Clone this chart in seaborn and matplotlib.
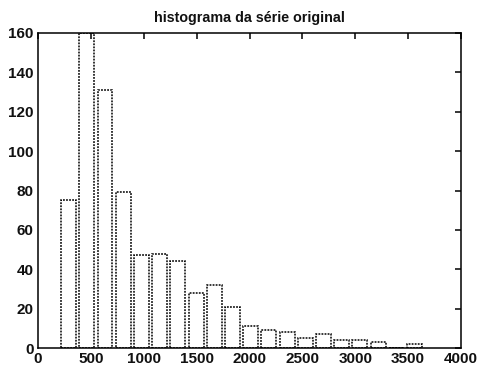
import numpy as np
import pandas as pd
import matplotlib
matplotlib.use("Agg")
import matplotlib.pyplot as plt
import seaborn as sns

# Histogram of the original series: 20 bins
bin_start = 203.0
bin_width = 172.2
counts = [75, 160, 131, 79, 47, 48, 44, 28, 32, 21, 11, 9, 8, 5, 7, 4, 4, 3, 0, 2]
x_ticks = [0, 500, 1000, 1500, 2000, 2500, 3000, 3500, 4000]
y_ticks = [0, 20, 40, 60, 80, 100, 120, 140, 160]
title = "histograma da série original"

edges = bin_start + bin_width * np.arange(len(counts) + 1)
centers = (edges[:-1] + edges[1:]) / 2
df = pd.DataFrame({"valor": centers, "freq": counts})

sns.set_theme(style="white")
plt.rcParams["font.family"] = ["Liberation Sans", "DejaVu Sans"]

fig = plt.figure(figsize=(4.79, 3.73), dpi=100)
ax = fig.add_axes([38 / 479, 1 - 348 / 373, 423 / 479, 315 / 373])

sns.histplot(data=df, x="valor", weights="freq", bins=list(edges), shrink=0.82,
             fill=False, element="bars", color="black",
             linewidth=1.1, linestyle=(0, (1.2, 0.8)), ax=ax)

ax.set_xlim(0, 4000)
ax.set_ylim(0, 160)
ax.set_xticks(x_ticks)
ax.set_yticks(y_ticks)
ax.set_xlabel("")
ax.set_ylabel("")
ax.set_title(title, fontsize=10.3, fontweight="bold", pad=8, color="#111111")

for side in ["top", "bottom", "left", "right"]:
    ax.spines[side].set_visible(True)
    ax.spines[side].set_color("black")
    ax.spines[side].set_linewidth(1.1)

ax.tick_params(axis="both", which="major", direction="in", length=4,
               width=1.1, color="black", top=True, right=True,
               labelsize=11, pad=3)
for lbl in ax.get_xticklabels() + ax.get_yticklabels():
    lbl.set_fontweight("bold")
    lbl.set_color("#111111")

fig.savefig("out.png", dpi=100, facecolor="white")
